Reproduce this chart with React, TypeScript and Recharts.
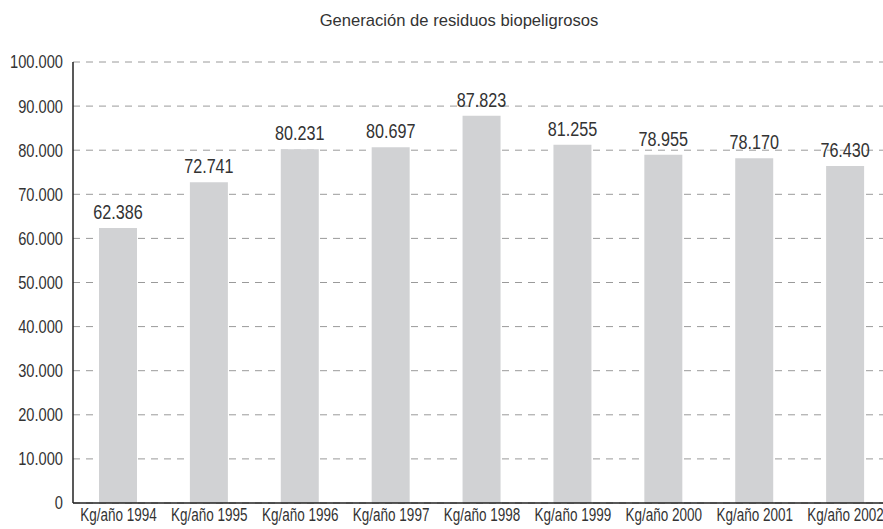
import { BarChart, Bar, XAxis, YAxis, CartesianGrid, LabelList } from 'recharts';

const categories = [
  'Kg/año 1994',
  'Kg/año 1995',
  'Kg/año 1996',
  'Kg/año 1997',
  'Kg/año 1998',
  'Kg/año 1999',
  'Kg/año 2000',
  'Kg/año 2001',
  'Kg/año 2002'
];

const residuos = [62386, 72741, 80231, 80697, 87823, 81255, 78955, 78170, 76430];

const yTicks = [0, 10000, 20000, 30000, 40000, 50000, 60000, 70000, 80000, 90000, 100000];

const data = categories.map((name, i) => ({ name, value: residuos[i] }));

const formatMiles = (v: number | string): string => {
  const n = Number(v);
  if (n === 0) return '0';
  return String(Math.round(n)).replace(/\B(?=(\d{3})+(?!\d))/g, '.');
};

// the reference uses a tall narrow face; Liberation Sans squeezed horizontally stands in for it
const FONT = '"Liberation Sans", Arial, sans-serif';
const TEXT = '#333';

const XTick = (props: any) => {
  const { x, y, payload } = props;
  return (
    <g transform={`translate(${x},${y})`}>
      <text transform="scale(0.73,1)" textAnchor="middle" dy="0.71em" fill={TEXT} fontSize={18.5} fontFamily={FONT}>
        {payload.value}
      </text>
    </g>
  );
};

const YTick = (props: any) => {
  const { x, y, payload } = props;
  return (
    <g transform={`translate(${x},${y})`}>
      <text transform="scale(0.815,1)" textAnchor="end" dy="0.355em" fill={TEXT} fontSize={18} fontFamily={FONT}>
        {formatMiles(payload.value)}
      </text>
    </g>
  );
};

const ValueLabel = (props: any) => {
  const { x, y, width, value } = props;
  return (
    <g transform={`translate(${Number(x) + Number(width) / 2},${Number(y) - 9})`}>
      <text transform="scale(0.77,1)" textAnchor="middle" fill={TEXT} fontSize={21} fontFamily={FONT}>
        {formatMiles(value)}
      </text>
    </g>
  );
};

export default function App() {
  return (
    <div style={{ position: 'absolute', left: 0, top: 0, width: 883, height: 529, overflow: 'hidden', background: '#fff' }}>
      <div
        style={{
          position: 'absolute',
          left: 0,
          top: 11,
          width: 918,
          textAlign: 'center',
          fontFamily: FONT,
          fontSize: 16.6,
          color: TEXT
        }}
      >
        Generación de residuos biopeligrosos
      </div>
      <BarChart width={891} height={529} data={data} margin={{ top: 62, right: 0, left: 0, bottom: 0 }}>
        <CartesianGrid vertical={false} stroke="#9a9a9a" strokeDasharray="7 6" />
        <XAxis
          dataKey="name"
          height={26}
          tickLine={false}
          tickSize={0}
          tickMargin={5}
          axisLine={{ stroke: '#222', strokeWidth: 1.5 }}
          tick={<XTick />}
          interval={0}
        />
        <YAxis
          width={73}
          domain={[0, 100000]}
          ticks={yTicks}
          tickLine={false}
          tickSize={0}
          tickMargin={10}
          axisLine={{ stroke: '#222', strokeWidth: 1.5 }}
          tick={<YTick />}
        />
        <Bar dataKey="value" fill="#d1d2d4" barSize={38} isAnimationActive={false}>
          <LabelList dataKey="value" content={<ValueLabel />} />
        </Bar>
      </BarChart>
    </div>
  );
}
